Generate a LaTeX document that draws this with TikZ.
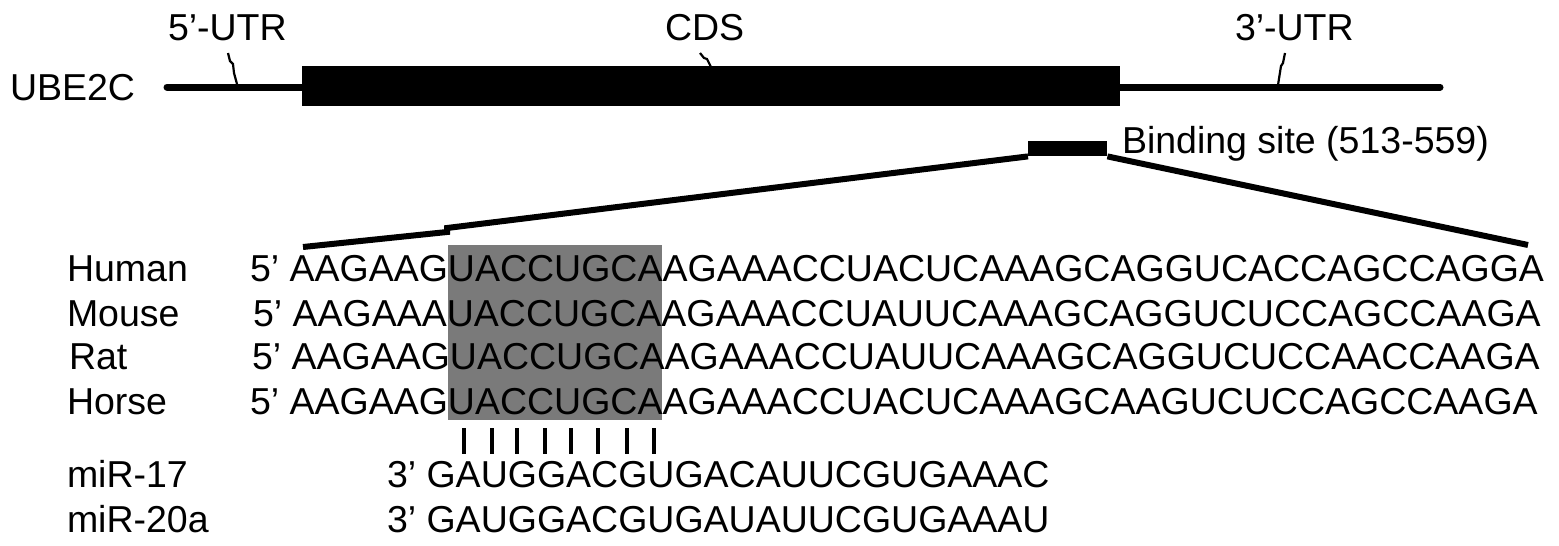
\documentclass[tikz,border=0pt]{standalone}
\usepackage{fontspec}
\setmainfont{Liberation Sans}
\usetikzlibrary{calc,backgrounds}
\definecolor{seedgray}{RGB}{122,122,122}
\tikzset{
  txt/.style={anchor=base west,inner sep=0pt,outer sep=0pt,font=\fontsize{37.5}{45}\selectfont},
  gene/.style={line width=7pt,line cap=round},
  cdsbox/.style={fill=black,draw=none,anchor=north west,inner sep=0pt,minimum width=818pt,minimum height=40pt},
  sitebox/.style={fill=black,draw=none,anchor=north west,inner sep=0pt,minimum width=79pt,minimum height=15pt},
  zoomline/.style={line width=6pt,line join=miter},
  tick/.style={line width=2.2pt},
  pairbar/.style={line width=3.4pt}
}
\begin{document}
\begin{tikzpicture}[x=1pt,y=-1pt]
\useasboundingbox (0,0) rectangle (1559,546);
% gene model
\node[txt] (ube) at (10,100) {UBE2C};
\coordinate (g0) at (167,87);
\coordinate (g1) at (1440,87);
\draw[gene] (g0) -- (g1);
\node[cdsbox] (cds) at (302,66) {};
\node[txt] (utr5) at (168,40) {5’-UTR};
\node[txt] (cdsl) at (665,40) {CDS};
\node[txt] (utr3) at (1235,40) {3’-UTR};
\coordinate (t5a) at (228,53);
\coordinate (t5b) at (237,84);
\draw[tick] (t5a) -- (230,61) -- (233,64) -- (234,73) -- (t5b);
\coordinate (tca) at (700,53);
\coordinate (tcb) at (711,67);
\draw[tick] (tca) -- (704,58) -- (707,59) -- (tcb);
\coordinate (t3a) at (1285,53);
\coordinate (t3b) at (1278,85);
\draw[tick] (t3a) -- (1283,63) -- (1281,66) -- (t3b);
% binding site
\node[sitebox] (bs) at (1028,141) {};
\node[txt] (bsl) at (1122,153) {Binding site (513-559)};
\coordinate (zl) at (303,247);
\coordinate (zr) at (1528,245);
\draw[zoomline] (bs.south west) -- (447,228) -- (447,232) -- (zl);
\draw[zoomline] (bs.south east) -- (zr);
% aligned sequences
\node[txt] (hl) at (67,281) {Human};
\node[txt] (h5) at (250,281) {5’ AAGAAG};
\node[txt] (hs) at (h5.base east) {UACCUGCA};
\node[txt] (hr) at (hs.base east) {AGAAACCUACUCAAAGCAGGUCACCAGCCAGGA};
\node[txt] (ml) at (67,326) {Mouse};
\node[txt] (m5) at (253,326) {5’ AAGAAA};
\node[txt] (ms) at (m5.base east) {UACCUGCA};
\node[txt] (mr) at (ms.base east) {AGAAACCUAUUCAAAGCAGGUCUCCAGCCAAGA};
\node[txt] (rl) at (69,369) {Rat};
\node[txt] (r5) at (252,369) {5’ AAGAAG};
\node[txt] (rs) at (r5.base east) {UACCUGCA};
\node[txt] (rr) at (rs.base east) {AGAAACCUAUUCAAAGCAGGUCUCCAACCAAGA};
\node[txt] (el) at (67,414) {Horse};
\node[txt] (e5) at (250,414) {5’ AAGAAG};
\node[txt] (es) at (e5.base east) {UACCUGCA};
\node[txt] (er) at (es.base east) {AGAAACCUACUCAAAGCAAGUCUCCAGCCAAGA};
\begin{scope}[on background layer]
\fill[seedgray] ($(hs.base west)+(0,-36)$) rectangle ($(es.base east)+(-1,6)$);
\end{scope}
% base pairing
\foreach \x in {464,492,517,545,571,598,627,654}{
  \draw[pairbar] (\x,428) -- (\x,454);
}
% miRNAs
\node[txt] (m17l) at (67,487) {miR-17};
\node[txt] (m17) at (387,487) {3’ GAUGGACGUGACAUUCGUGAAAC};
\node[txt] (m20l) at (67,532) {miR-20a};
\node[txt] (m20) at (387,532) {3’ GAUGGACGUGAUAUUCGUGAAAU};
\end{tikzpicture}
\end{document}
